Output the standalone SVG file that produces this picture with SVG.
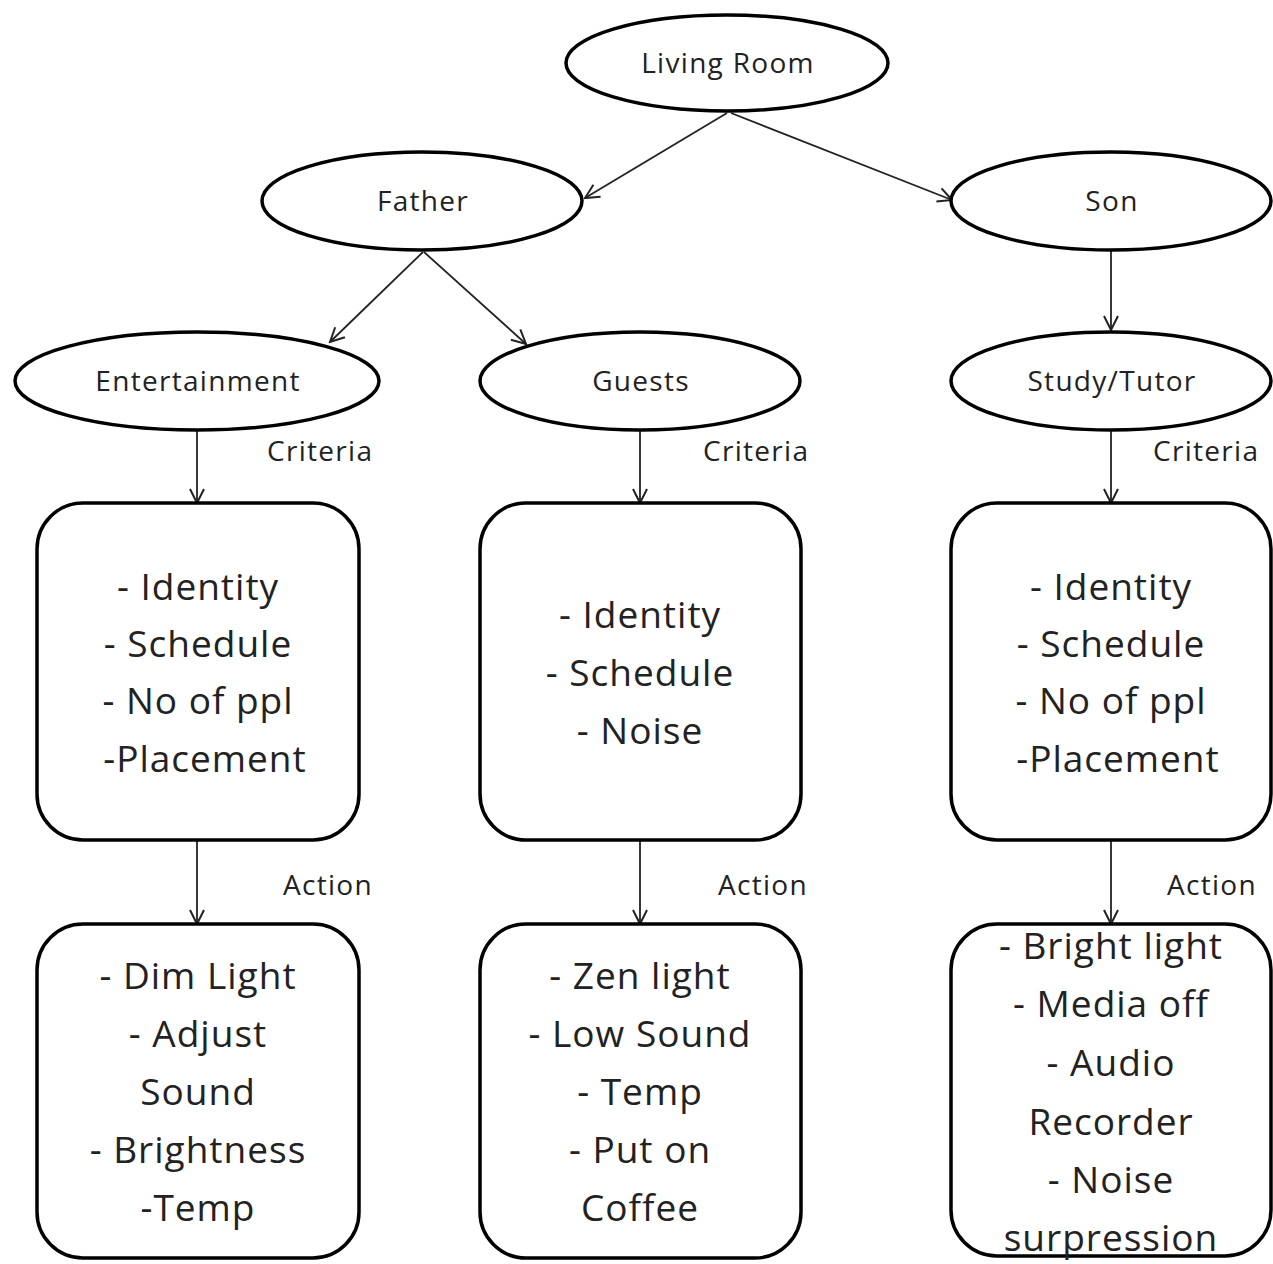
<svg xmlns="http://www.w3.org/2000/svg" width="1273" height="1264" viewBox="0 0 1273 1264">
  <defs>
    <marker id="arrow" viewBox="0 0 20 20" refX="18" refY="10" markerWidth="20" markerHeight="20" markerUnits="userSpaceOnUse" orient="auto">
      <path d="M4,3 L18,10 L4,17" fill="none" stroke="#222" stroke-width="2"/>
    </marker>
  </defs>
  <style>
    .shape { fill: #fff; stroke: #000; stroke-width: 3.5; }
    .edge { fill: none; stroke: #222; stroke-width: 1.8; marker-end: url(#arrow); }
    text { font-family: "Open Sans", Lato, sans-serif; fill: #222; text-anchor: middle; }
    .lbl { font-size: 28px; letter-spacing: 1.3px; }
    .item { font-size: 37px; letter-spacing: 1px; }
    .side { font-size: 28px; letter-spacing: 1.3px; text-anchor: start; }
  </style>
  <rect width="1273" height="1264" fill="#fff"/>

  <!-- connectors -->
  <g id="connectors">
    <line class="edge" x1="727" y1="113" x2="585" y2="198"/>
    <line class="edge" x1="731" y1="113" x2="952" y2="200"/>
    <line class="edge" x1="423" y1="252" x2="330" y2="342"/>
    <line class="edge" x1="424" y1="252" x2="526" y2="344"/>
    <line class="edge" x1="1111" y1="251" x2="1111" y2="330"/>
    <line class="edge" x1="197" y1="431" x2="197" y2="503"/>
    <line class="edge" x1="640" y1="431" x2="640" y2="503"/>
    <line class="edge" x1="1111" y1="431" x2="1111" y2="503"/>
    <line class="edge" x1="197" y1="840" x2="197" y2="924"/>
    <line class="edge" x1="640" y1="840" x2="640" y2="924"/>
    <line class="edge" x1="1111" y1="840" x2="1111" y2="924"/>
    <text class="side" x="267" y="461">Criteria</text>
    <text class="side" x="703" y="461">Criteria</text>
    <text class="side" x="1153" y="461">Criteria</text>
    <text class="side" x="283" y="895">Action</text>
    <text class="side" x="718" y="895">Action</text>
    <text class="side" x="1167" y="895">Action</text>
  </g>

  <g id="living-room">
    <ellipse class="shape" cx="727" cy="63" rx="161" ry="48"/>
    <text class="lbl" x="728" y="73">Living Room</text>
  </g>
  <g id="father">
    <ellipse class="shape" cx="422" cy="201" rx="160" ry="49"/>
    <text class="lbl" x="423" y="211">Father</text>
  </g>
  <g id="son">
    <ellipse class="shape" cx="1111" cy="201" rx="160" ry="49"/>
    <text class="lbl" x="1112" y="211">Son</text>
  </g>
  <g id="entertainment">
    <ellipse class="shape" cx="197" cy="381" rx="182" ry="49"/>
    <text class="lbl" x="198" y="391">Entertainment</text>
  </g>
  <g id="guests">
    <ellipse class="shape" cx="640" cy="381" rx="160" ry="49"/>
    <text class="lbl" x="641" y="391">Guests</text>
  </g>
  <g id="study-tutor">
    <ellipse class="shape" cx="1111" cy="381" rx="160" ry="49"/>
    <text class="lbl" x="1112" y="391">Study/Tutor</text>
  </g>

  <g id="entertainment-criteria">
    <rect class="shape" x="37" y="503" width="322" height="337" rx="46"/>
    <text class="item" x="198" y="600">- Identity</text>
    <text class="item" x="198" y="657">- Schedule</text>
    <text class="item" x="198" y="714">- No of ppl</text>
    <text class="item" x="205" y="772">-Placement</text>
  </g>
  <g id="guests-criteria">
    <rect class="shape" x="480" y="503" width="321" height="337" rx="46"/>
    <text class="item" x="640" y="628">- Identity</text>
    <text class="item" x="640" y="686">- Schedule</text>
    <text class="item" x="640" y="744">- Noise</text>
  </g>
  <g id="study-criteria">
    <rect class="shape" x="951" y="503" width="320" height="337" rx="46"/>
    <text class="item" x="1111" y="600">- Identity</text>
    <text class="item" x="1111" y="657">- Schedule</text>
    <text class="item" x="1111" y="714">- No of ppl</text>
    <text class="item" x="1118" y="772">-Placement</text>
  </g>

  <g id="entertainment-action">
    <rect class="shape" x="37" y="924" width="322" height="334" rx="46"/>
    <text class="item" x="198" y="989">- Dim Light</text>
    <text class="item" x="198" y="1047">- Adjust</text>
    <text class="item" x="198" y="1105">Sound</text>
    <text class="item" x="198" y="1163">- Brightness</text>
    <text class="item" x="198" y="1221">-Temp</text>
  </g>
  <g id="guests-action">
    <rect class="shape" x="480" y="924" width="321" height="334" rx="46"/>
    <text class="item" x="640" y="989">- Zen light</text>
    <text class="item" x="640" y="1047">- Low Sound</text>
    <text class="item" x="640" y="1105">- Temp</text>
    <text class="item" x="640" y="1163">- Put on</text>
    <text class="item" x="640" y="1221">Coffee</text>
  </g>
  <g id="study-action">
    <rect class="shape" x="951" y="924" width="320" height="332" rx="46"/>
    <text class="item" x="1111" y="959">- Bright light</text>
    <text class="item" x="1111" y="1017">- Media off</text>
    <text class="item" x="1111" y="1076">- Audio</text>
    <text class="item" x="1111" y="1135">Recorder</text>
    <text class="item" x="1111" y="1193">- Noise</text>
    <text class="item" x="1111" y="1251">surpression</text>
  </g>
</svg>
